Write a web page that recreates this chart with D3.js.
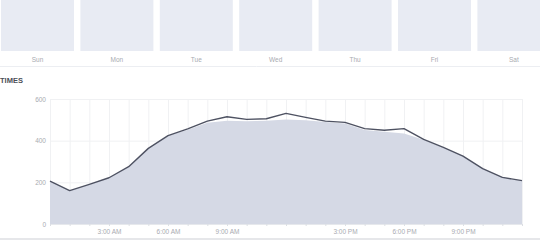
<!DOCTYPE html>
<html lang="en">
<head>
  <meta charset="UTF-8">
  <title>times</title>
  <script src="https://d3js.org/d3.v7.min.js"></script>
  <style>
    body { margin: 0; background: #fff; }
    text { font-family: "Liberation Sans", Arial, sans-serif; }
    .grid line { stroke: #f0f1f3; stroke-width: 1px; }
    .axis text { fill: #a8abb1; font-size: 6.5px; }
  </style>
</head>
<body>
  <svg id="chart" width="540" height="240"></svg>

  <script>
    // days across the top
    const days = ["Sun", "Mon", "Tue", "Wed", "Thu", "Fri", "Sat"];

    // hourly values, 0..24
    const hours = d3.range(0, 25);
    const lineValues = [206, 160, 190, 222, 275, 363, 424, 457, 494, 515, 502, 505, 531,
                        512, 494, 488, 458, 450, 458, 406, 368, 326, 266, 224, 208];
    const areaValues = [206, 160, 190, 222, 275, 363, 424, 452, 486, 496, 493, 496, 502,
                        498, 490, 483, 451, 443, 435, 404, 366, 326, 266, 224, 208];

    const yTicks = [0, 200, 400, 600];
    const xTicks = [3, 6, 9, 12, 15, 18, 21];
    const xTickLabels = ["3:00 AM", "6:00 AM", "9:00 AM", "", "3:00 PM", "6:00 PM", "9:00 PM"];

    const svg = d3.select("#chart");

    // day boxes
    const band = d3.scaleBand().domain(days).range([1, 550.4]).paddingInner(0.0806);
    svg.selectAll("rect.day").data(days)
      .join("rect")
      .attr("class", "day")
      .attr("x", d => band(d))
      .attr("y", 0)
      .attr("width", band.bandwidth())
      .attr("height", 51)
      .attr("fill", "#e8ebf3");
    svg.selectAll("text.day").data(days)
      .join("text")
      .attr("class", "day")
      .attr("x", d => band(d) + band.bandwidth() / 2)
      .attr("y", 61.5)
      .attr("text-anchor", "middle")
      .attr("font-size", "6.5px")
      .attr("fill", "#a8abb1")
      .text(d => d);

    svg.append("line")
      .attr("x1", 0).attr("x2", 540).attr("y1", 66.5).attr("y2", 66.5)
      .attr("stroke", "#eceef2");

    svg.append("text")
      .attr("x", 0).attr("y", 83)
      .attr("font-size", "7.5px")
      .attr("font-weight", "bold")
      .attr("fill", "#4b4f56")
      .text("TIMES");

    // chart
    const x = d3.scaleLinear().domain([0, 24]).range([50, 522]);
    const y = d3.scaleLinear().domain([0, 600]).range([224, 99]);

    const grid = svg.append("g").attr("class", "grid");
    grid.selectAll("line.v").data(hours)
      .join("line")
      .attr("class", "v")
      .attr("x1", d => x(d) + 0.5).attr("x2", d => x(d) + 0.5)
      .attr("y1", y(600)).attr("y2", y(0));
    grid.selectAll("line.h").data(yTicks)
      .join("line")
      .attr("class", "h")
      .attr("x1", x(0)).attr("x2", x(24))
      .attr("y1", d => y(d) + 0.5).attr("y2", d => y(d) + 0.5);

    const area = d3.area()
      .x((d, i) => x(hours[i]))
      .y0(y(0))
      .y1(d => y(d));
    svg.append("path").datum(areaValues)
      .attr("d", area)
      .attr("fill", "#d5d9e5");

    const line = d3.line()
      .x((d, i) => x(hours[i]))
      .y(d => y(d));
    svg.append("path").datum(lineValues)
      .attr("d", line)
      .attr("fill", "none")
      .attr("stroke", "#4e5262")
      .attr("stroke-width", 1.4)
      .attr("stroke-linejoin", "round");

    // axes
    const yAxis = svg.append("g")
      .attr("class", "axis")
      .attr("transform", "translate(46,0)")
      .call(d3.axisLeft(y).tickValues(yTicks).tickSize(0).tickPadding(0));
    yAxis.select(".domain").remove();

    const xAxis = svg.append("g")
      .attr("class", "axis")
      .attr("transform", "translate(0," + y(0) + ")")
      .call(d3.axisBottom(x).tickValues(hours).tickSize(2).tickPadding(3.5)
        .tickFormat(d => { const i = xTicks.indexOf(d); return i < 0 ? "" : xTickLabels[i]; }));
    xAxis.select(".domain").attr("stroke", "#e6e8ec");
    xAxis.selectAll(".tick line").attr("stroke", "#dcdfe4");

    svg.append("rect")
      .attr("x", 0).attr("y", 238).attr("width", 540).attr("height", 2)
      .attr("fill", "#e6e7ea");
  </script>
</body>
</html>
